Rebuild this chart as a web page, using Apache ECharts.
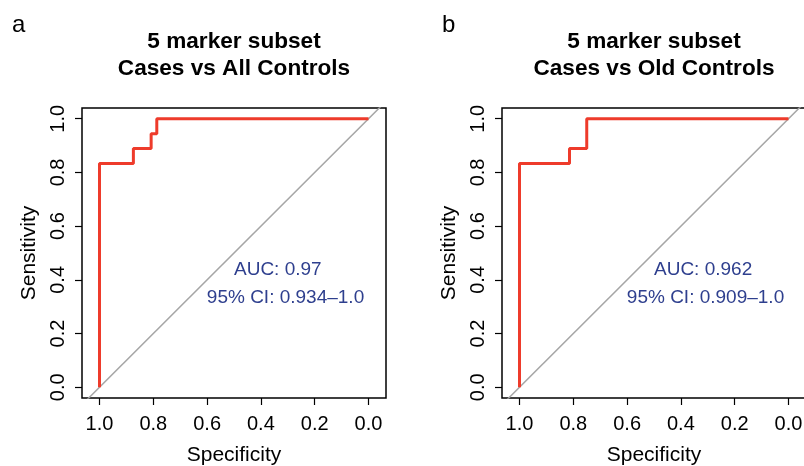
<!DOCTYPE html>
<html>
<head>
<meta charset="utf-8">
<script src="https://cdn.jsdelivr.net/npm/echarts@6/dist/echarts.min.js"></script>
<style>
  html, body { margin: 0; padding: 0; background: #fff; }
  #roc { width: 804px; height: 466px; }
</style>
</head>
<body>
<div id="roc"></div>
<script>
// ROC curves (specificity, sensitivity corner points)
var specAll = [1, 1, 0.874, 0.874, 0.808, 0.808, 0.787, 0.787, 0];
var sensAll = [0, 0.833, 0.833, 0.889, 0.889, 0.944, 0.944, 1, 1];
var specOld = [1, 1, 0.814, 0.814, 0.75, 0.75, 0];
var sensOld = [0, 0.833, 0.833, 0.889, 0.889, 1, 1];
var tickVals = [0, 0.2, 0.4, 0.6, 0.8, 1.0];
var panelTitles = ["5 marker subset\nCases vs All Controls", "5 marker subset\nCases vs Old Controls"];
var panelTags = ["a", "b"];
var aucText = ["AUC: 0.97", "AUC: 0.962"];
var ciText = ["95% CI: 0.934\u20131.0", "95% CI: 0.909\u20131.0"];

var FONT = "Liberation Sans, Arial, Helvetica, sans-serif";
var RED = "#ee3b2b";
var BLUE = "#2e3f8e";

function toPairs(xs, ys) {
  var out = [];
  for (var i = 0; i < xs.length; i++) out.push([xs[i], ys[i]]);
  return out;
}

var myChart = echarts.init(document.getElementById("roc"));
var grids = [
  { left: 82, top: 108, width: 304, height: 290 },
  { left: 502, top: 108, width: 304, height: 290 }
];
var xAxes = [], yAxes = [], series = [], titles = [];
for (var g = 0; g < 2; g++) {
  grids[g].show = true;
  grids[g].borderColor = "#000";
  grids[g].borderWidth = 1.5;
  grids[g].backgroundColor = "transparent";
  grids[g].containLabel = false;
  grids[g].outerBoundsMode = "none";
  xAxes.push({
    type: "value",
    gridIndex: g,
    inverse: true,
    min: -0.065,
    max: 1.065,
    name: "Specificity",
    nameLocation: "middle",
    nameGap: 47,
    nameTextStyle: { fontFamily: FONT, fontSize: 21, color: "#000" },
    axisLine: { show: false, onZero: false },
    axisTick: { show: true, length: 7, customValues: tickVals, lineStyle: { color: "#000", width: 1.2 } },
    axisLabel: {
      customValues: tickVals,
      margin: 16,
      fontFamily: FONT,
      fontSize: 20,
      color: "#000",
      formatter: function (v) { return v.toFixed(1); }
    },
    splitLine: { show: false }
  });
  yAxes.push({
    type: "value",
    gridIndex: g,
    min: -0.04,
    max: 1.04,
    name: "Sensitivity",
    nameLocation: "middle",
    nameGap: 42,
    nameTextStyle: { fontFamily: FONT, fontSize: 21, color: "#000" },
    axisLine: { show: false, onZero: false },
    axisTick: { show: true, length: 7, customValues: tickVals, lineStyle: { color: "#000", width: 1.2 } },
    axisLabel: {
      customValues: tickVals,
      rotate: 90,
      margin: 14,
      fontFamily: FONT,
      fontSize: 20,
      color: "#000",
      formatter: function (v) { return v.toFixed(1); }
    },
    splitLine: { show: false }
  });
  // chance diagonal
  series.push({
    type: "line",
    xAxisIndex: g,
    yAxisIndex: g,
    data: [[1.1, -0.1], [-0.1, 1.1]],
    symbol: "none",
    clip: true,
    silent: true,
    lineStyle: { color: "#a6a6a6", width: 1.5 }
  });
  // ROC curve
  series.push({
    type: "line",
    xAxisIndex: g,
    yAxisIndex: g,
    data: g === 0 ? toPairs(specAll, sensAll) : toPairs(specOld, sensOld),
    symbol: "none",
    lineStyle: { color: RED, width: 3 },
    z: 3
  });
  // AUC + CI annotations
  series.push({
    type: "scatter",
    xAxisIndex: g,
    yAxisIndex: g,
    symbolSize: 0,
    silent: true,
    itemStyle: { color: BLUE },
    data: [
      { value: [0.5, 0.437], label: { formatter: aucText[g] } },
      { value: [0.601, 0.333], label: { formatter: ciText[g] } }
    ],
    label: {
      show: true,
      position: "inside",
      align: "left",
      verticalAlign: "middle",
      fontFamily: FONT,
      fontSize: 19,
      color: BLUE,
      opacity: 1
    },
    z: 4
  });
  titles.push({
    text: panelTitles[g],
    left: grids[g].left + 152,
    top: 28,
    padding: 0,
    textAlign: "center",
    textStyle: { fontFamily: FONT, fontSize: 22.6, fontWeight: "bold", color: "#000", lineHeight: 27 }
  });
  titles.push({
    text: panelTags[g],
    left: g === 0 ? 7 : 437,
    top: 8,
    textStyle: { fontFamily: FONT, fontSize: 24, fontWeight: "normal", color: "#000" }
  });
}

var option = {
  backgroundColor: "#fff",
  animation: false,
  title: titles,
  grid: grids,
  xAxis: xAxes,
  yAxis: yAxes,
  series: series
};
myChart.setOption(option);
window.addEventListener("resize", function () {
  myChart.resize();
});
</script>
</body>
</html>
